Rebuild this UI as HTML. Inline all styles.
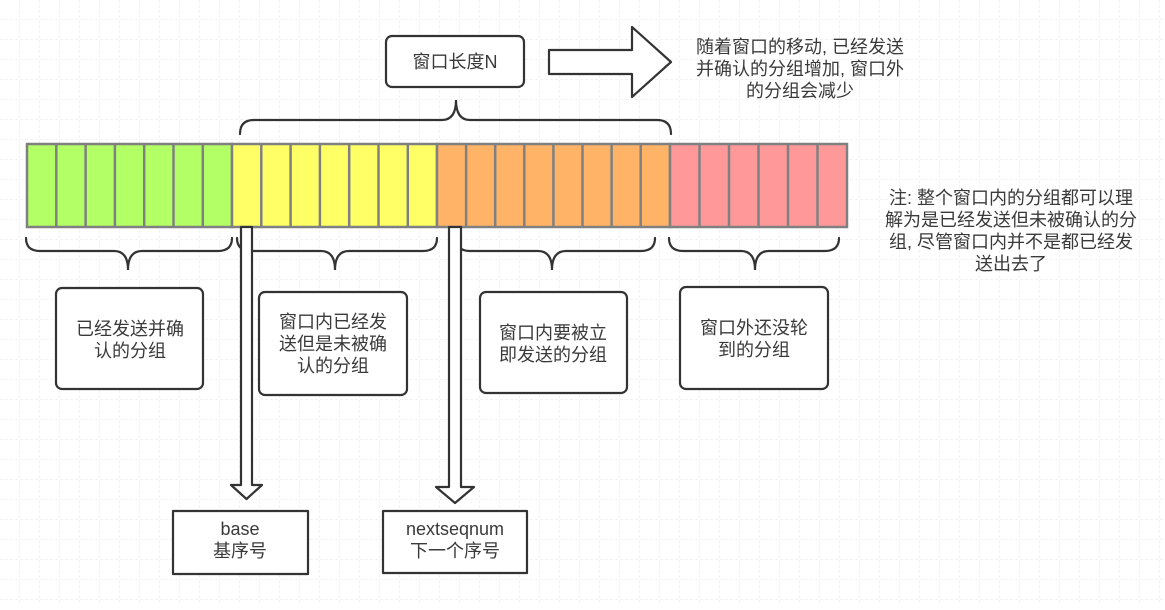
<!DOCTYPE html>
<html><head><meta charset="utf-8"><style>
html,body{margin:0;padding:0;background:#fff;}
svg text{font-family:"Liberation Sans","Noto Sans CJK SC",sans-serif;font-size:18px;fill:#3a3a3a;text-anchor:middle;}
</style></head><body>
<svg width="1165" height="605" viewBox="0 0 1165 605" xmlns="http://www.w3.org/2000/svg">
<defs>
<pattern id="g" width="20" height="20" patternUnits="userSpaceOnUse">
<path d="M20 0V20M0 20H20" fill="none" stroke="#e6e6e6" stroke-width="1" stroke-dasharray="3,2"/>
</pattern>
</defs>
<rect width="1165" height="605" fill="url(#g)"/>
<g stroke="#808080" stroke-width="2.5">
<rect x="27" y="144" width="205" height="83" fill="#b3ff66"/>
<rect x="232" y="144" width="205" height="83" fill="#ffff66"/>
<rect x="437" y="144" width="233" height="83" fill="#ffb366"/>
<rect x="670" y="144" width="177" height="83" fill="#ff9999"/>
<path d="M56.3 144V227M85.6 144V227M114.9 144V227M144.2 144V227M173.5 144V227M202.8 144V227
M261.3 144V227M290.6 144V227M319.9 144V227M349.2 144V227M378.5 144V227M407.8 144V227
M466.1 144V227M495.2 144V227M524.3 144V227M553.4 144V227M582.5 144V227M611.6 144V227M640.7 144V227
M699.5 144V227M729 144V227M758.5 144V227M788 144V227M817.5 144V227" fill="none"/>
</g>
<g fill="none" stroke="#333" stroke-width="2.2" stroke-linecap="round">
<path d="M240 134Q240 120 254 120H442Q456 120 456 100Q456 120 470 120H657Q671 120 671 134"/>
<path d="M26 238Q26 251 40 251H114Q128 251 128 270Q128 251 142 251H218Q232 251 232 238"/>
<path d="M237 238Q237 251 251 251H321Q335 251 335 270Q335 251 349 251H423Q437 251 437 238"/>
<path d="M456 238Q456 251 470 251H538Q552 251 552 270Q552 251 566 251H641Q655 251 655 238"/>
<path d="M669 238Q669 251 683 251H741Q755 251 755 270Q755 251 769 251H825Q839 251 839 238"/>
</g>
<g fill="#fff" stroke="#333" stroke-width="2.2" stroke-linejoin="round">
<path d="M549 50H632V27L671 62L632 97V74H549Z"/>
<path d="M241 227H252V485H262L246.5 499L231 485H241Z"/>
<path d="M449 227H461V487H474L455 503L436 487H449Z"/>
<rect x="386" y="36" width="138" height="51" rx="6"/>
<rect x="56" y="288" width="147" height="101" rx="6"/>
<rect x="259" y="292" width="148" height="103" rx="6"/>
<rect x="480" y="292" width="147" height="101" rx="6"/>
<rect x="680" y="287" width="148" height="102" rx="6"/>
<rect x="173" y="511" width="135" height="63"/>
<rect x="383" y="511" width="144" height="62"/>
</g>
<text x="455" y="68">窗口长度N</text>
<text x="130" y="335">已经发送并确</text>
<text x="130" y="357">认的分组</text>
<text x="333" y="328">窗口内已经发</text>
<text x="333" y="350">送但是未被确</text>
<text x="333" y="372">认的分组</text>
<text x="553" y="339">窗口内要被立</text>
<text x="553" y="361">即发送的分组</text>
<text x="754" y="334">窗口外还没轮</text>
<text x="754" y="356">到的分组</text>
<text x="240" y="535">base</text>
<text x="240" y="557">基序号</text>
<text x="455" y="535">nextseqnum</text>
<text x="455" y="557">下一个序号</text>
<text x="800" y="53">随着窗口的移动, 已经发送</text>
<text x="800" y="75">并确认的分组增加, 窗口外</text>
<text x="800" y="97">的分组会减少</text>
<text x="1011" y="204">注: 整个窗口内的分组都可以理</text>
<text x="1011" y="226">解为是已经发送但未被确认的分</text>
<text x="1011" y="248">组, 尽管窗口内并不是都已经发</text>
<text x="1011" y="270">送出去了</text>
</svg>
</body></html>
